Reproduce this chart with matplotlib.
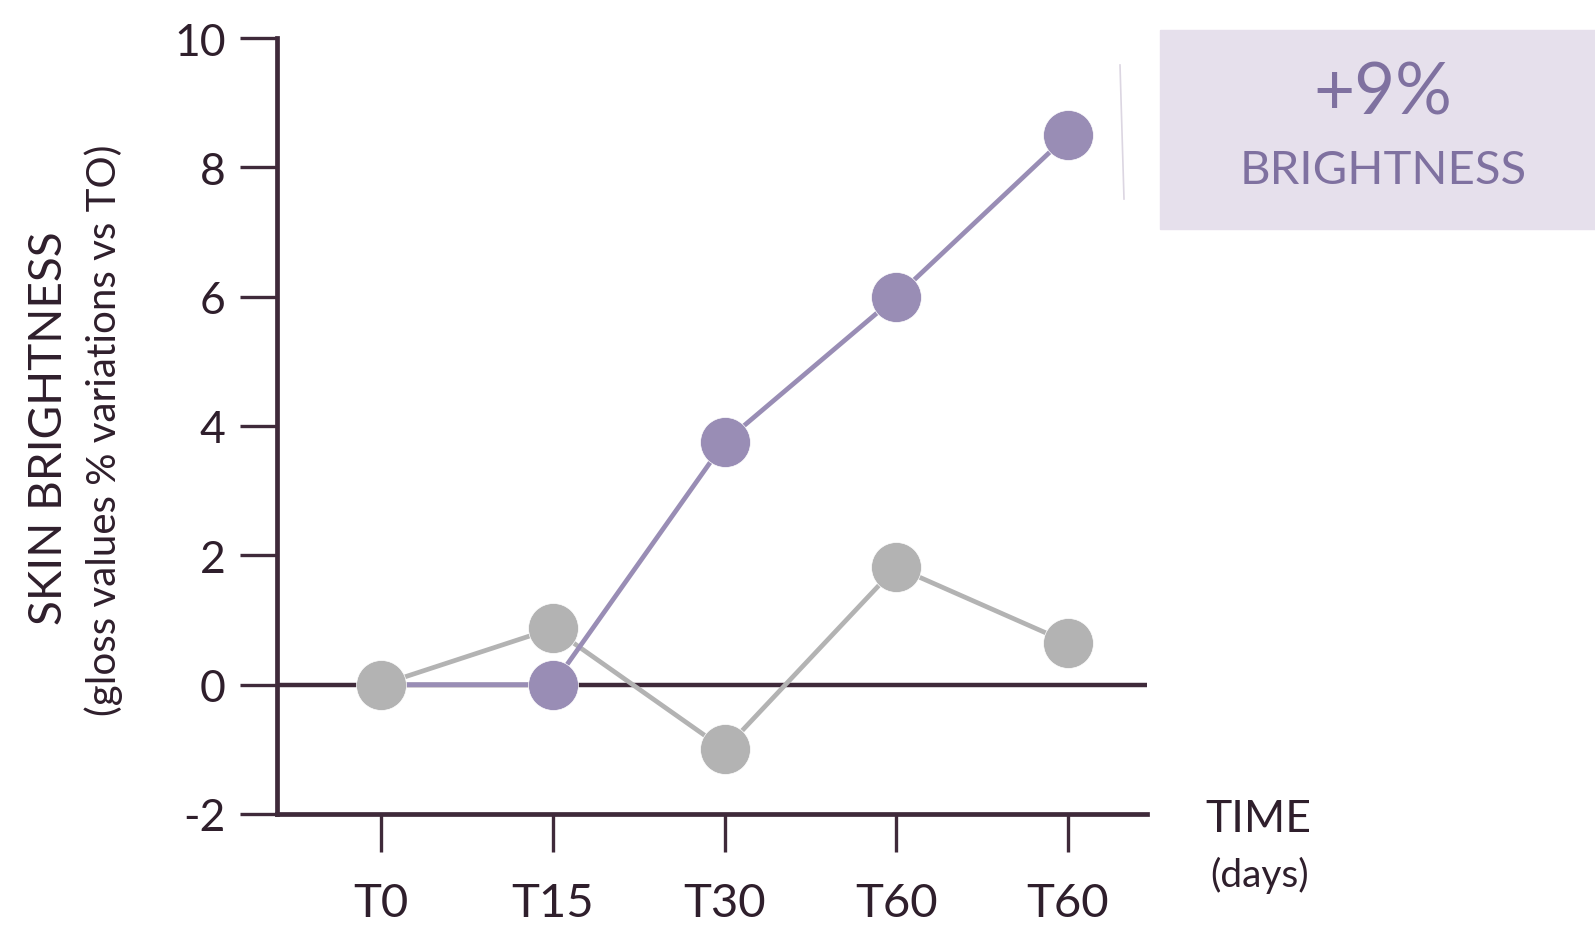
import matplotlib
matplotlib.use("Agg")
import matplotlib.pyplot as plt
from matplotlib.patches import Rectangle
from matplotlib.lines import Line2D

# values
timepoints = ["T0", "T15", "T30", "T60", "T60"]
treated = [0.0, 0.0, 3.75, 6.0, 8.5]
placebo = [0.0, 0.87, -1.0, 1.82, 0.65]
y_ticks = [-2, 0, 2, 4, 6, 8, 10]

dark = "#3f2a3a"
purple = "#998db5"
grey = "#b3b3b3"
box_col = "#e6e0ec"
box_text = "#7f71a0"

plt.rcParams['font.family'] = ['Lato', 'DejaVu Sans']

fig = plt.figure(figsize=(15.95, 9.28), dpi=100)
ax = fig.add_axes([277 / 1595, 1 - 815 / 928, (1147 - 277) / 1595, (815 - 39) / 928])

x = list(range(len(timepoints)))

ax.axhline(0, color=dark, lw=3.2, zorder=1)
ax.plot(x, placebo, color=grey, lw=3.4, zorder=2)
ax.plot(x, treated, color=purple, lw=3.4, zorder=2.5)
ax.plot(x, placebo, ls="none", marker="o", ms=36, color=grey, mec="white", mew=0.5, zorder=3)
ax.plot(x[1:], treated[1:], ls="none", marker="o", ms=36, color=purple, mec="white", mew=0.5, zorder=4)

ax.set_xlim(-0.606, 4.46)
ax.set_ylim(-2, 10)
ax.set_xticks(x)
ax.set_xticklabels(timepoints)
ax.set_yticks(y_ticks)
ax.set_yticklabels([str(v) for v in y_ticks])

for side in ["top", "right"]:
    ax.spines[side].set_visible(False)
for side in ["left", "bottom"]:
    ax.spines[side].set_color(dark)
    ax.spines[side].set_linewidth(3.4)

ax.tick_params(axis="both", direction="out", length=27, width=2.4, color=dark,
               labelcolor="#2f1f2c", labelsize=32)
ax.tick_params(axis="x", pad=22, labelsize=34)
ax.tick_params(axis="y", pad=10)

# axis titles
fig.text(49 / 1595, 1 - 428 / 928, "SKIN BRIGHTNESS", rotation=90, ha="center", va="center",
         fontsize=33, color="#2f1f2c")
fig.text(104 / 1595, 1 - 430 / 928, "(gloss values % variations vs TO)", rotation=90,
         ha="center", va="center", fontsize=29, color="#2f1f2c")
fig.text(1258 / 1595, 1 - 819 / 928, "TIME", ha="center", va="center",
         fontsize=32, color="#2f1f2c")
fig.text(1260 / 1595, 1 - 875 / 928, "(days)", ha="center", va="center",
         fontsize=28, color="#2f1f2c")

# highlight box
fig.patches.append(Rectangle((1160 / 1595, 1 - 230 / 928), (1595 - 1160) / 1595, (230 - 31) / 928,
                             transform=fig.transFigure, color=box_col, zorder=0))
fig.add_artist(Line2D([1120 / 1595, 1124 / 1595], [1 - 66 / 928, 1 - 200 / 928],
                      color="#dcd6e2", lw=1.2))
fig.text(1383 / 1595, 1 - 94 / 928, "+9%", ha="center", va="center", fontsize=51, color=box_text)
fig.text(1383 / 1595, 1 - 171 / 928, "BRIGHTNESS", ha="center", va="center", fontsize=34, color=box_text)

fig.savefig("out.png", dpi=100)
